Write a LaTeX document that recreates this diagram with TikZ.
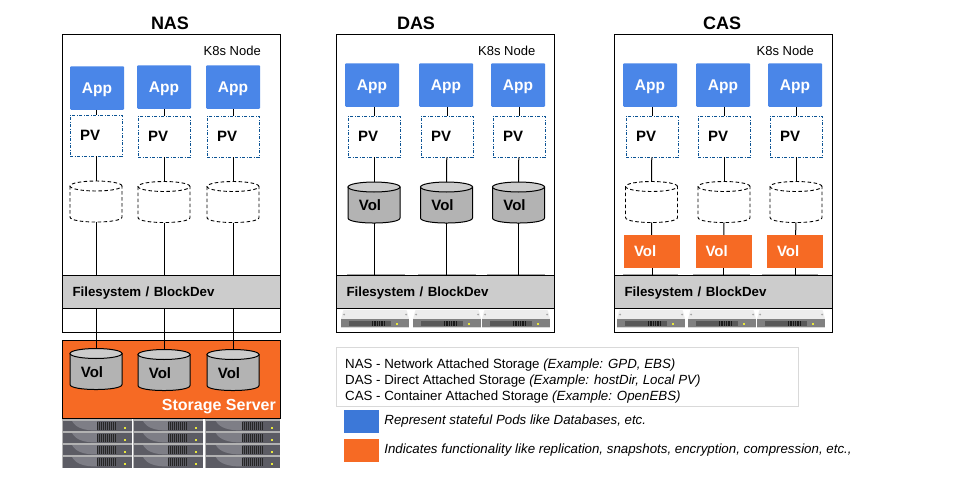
\documentclass[tikz,border=0pt]{standalone}
\usepackage{fontspec}
\setmainfont{Liberation Sans}
\usetikzlibrary{positioning}

\definecolor{appblue}{HTML}{4A86E8}
\definecolor{legendblue}{HTML}{3C78D8}
\definecolor{volorange}{HTML}{F66A24}
\definecolor{fsgrey}{HTML}{CCCCCC}
\definecolor{volgrey}{HTML}{B3B3B3}
\definecolor{pvblue}{HTML}{0B5394}
\definecolor{legendgrey}{HTML}{D9D9D9}
\definecolor{rackdark}{HTML}{5C5C64}
\definecolor{racklight}{HTML}{7E7E86}
\definecolor{ledyellow}{HTML}{E8E83C}

\tikzset{
  framebox/.style={draw=black, line width=1pt, minimum width=218pt, minimum height=297.5pt, inner sep=0pt},
  titletext/.style={font=\fontsize{18}{20}\selectfont\bfseries, inner sep=0pt},
  nodetext/.style={font=\fontsize{13}{15}\selectfont, inner sep=0pt},
  appbox/.style={fill=appblue, rounded corners=1pt, text=white, minimum width=54pt, minimum height=43.5pt, inner sep=0pt, text depth=0pt, font=\fontsize{15.5}{18}\selectfont\bfseries},
  pvbox/.style={draw=pvblue, line width=.8pt, dash pattern=on 3pt off 1.5pt on 1pt off 1.5pt, fill=white, minimum height=41pt, text width=32pt, inner xsep=10pt, inner ysep=0pt, align=left, font=\fontsize{15}{18}\selectfont\bfseries},
  voltext/.style={font=\fontsize{15}{18}\selectfont\bfseries, inner sep=0pt},
  orangevol/.style={fill=volorange, text=white, minimum height=33pt, text width=36pt, inner xsep=10pt, inner ysep=0pt, align=left, font=\fontsize{15}{18}\selectfont\bfseries},
  fsbox/.style={draw=black, line width=1pt, fill=fsgrey, minimum width=218pt, minimum height=33pt, text width=198pt, inner xsep=10pt, inner ysep=0pt, text depth=0pt, align=left, font=\fontsize{13.3}{16}\selectfont\bfseries},
  legendtext/.style={font=\fontsize{13.3}{16}\selectfont, inner sep=0pt, align=left},
  link/.style={draw=black, line width=1pt},
  peekline/.style={draw=gray!70, line width=1pt},
  emptycyl/.pic={
    \draw[black, line width=.9pt, dash pattern=on 3.5pt off 2.5pt, fill=white] (-26,-15.5) -- (-26,15.5) .. controls (-26,22.2) and (26,22.2) .. (26,15.5) -- (26,-15.5);
    \draw[black, line width=.9pt, dash pattern=on 3.5pt off 2.5pt, fill=white] (0,-15.5) ellipse [x radius=26pt, y radius=5pt];
    \coordinate (-top) at (0,-20.5);
    \coordinate (-bot) at (0,20.5);
  },
  greycyl/.pic={
    \draw[black, line width=1pt, fill=volgrey] (-26,-15.5) -- (-26,15.5) .. controls (-26,22.2) and (26,22.2) .. (26,15.5) -- (26,-15.5) -- cycle;
    \draw[black, line width=1pt, fill=fsgrey] (0,-15.5) ellipse [x radius=26pt, y radius=5pt];
    \node[voltext] (-text) at (-4,3) {Vol};
    \coordinate (-top) at (0,-20.5);
    \coordinate (-bot) at (0,20.5);
  },
  rackunit/.pic={
    \fill[rackdark] (0,0) rectangle (70,11.5);
    \draw[gray!60, line width=1.2pt] (0,0) -- (70,0);
    \draw[gray!60, line width=.8pt] (0,0) -- (0,11.5);
    \fill[racklight] (10,1) -- (35,1) -- (35,10.5) .. controls (22,10.5) and (14,8) .. (10,1);
    \draw[black!85, line width=8pt, dash pattern=on 1pt off 1pt] (35,6) -- (55,6);
    \fill[ledyellow] (62,6.5) rectangle (64,8.5);
  },
  diskunit/.pic={
    \fill[gray!15] (0,9) -- (2,1) .. controls (2,0) and (3,0) .. (4,0) -- (64,0) .. controls (65,0) and (66,0) .. (66,1) -- (68,9) -- cycle;
    \fill[gray!70] (3,4.5) circle (1pt);
    \fill[gray!70] (65,4.5) circle (1pt);
    \fill[gray] (0,9) rectangle (68,17);
    \fill[black!65] (8,11) rectangle (50,16);
    \draw[black!90, line width=5pt, dash pattern=on 1pt off .7pt] (31,13.5) -- (44,13.5);
    \fill[ledyellow] (55,13) rectangle (57,15);
    \fill[gray!30] (0,17) rectangle (68,18);
  },
}

\begin{document}
\begin{tikzpicture}[x=1pt, y=-1pt]
\useasboundingbox (0,0) rectangle (960,495);

% NAS
\node[titletext] (nastitle) at (170,23) {NAS};
\node[framebox] (nasframe) at (171.5,183.25) {};
\node[nodetext, anchor=east] (nask8s) at (261,51) {K8s Node};
\node[appbox] (nasappa) at (97,88) {App};
\node[appbox] (nasappb) at (164,87) {App};
\node[appbox] (nasappc) at (233,87) {App};
\node[pvbox] (naspva) at (96,135.5) {PV};
\node[pvbox] (naspvb) at (164,136.5) {PV};
\node[pvbox] (naspvc) at (233,136.5) {PV};
\pic (nascyla) at (96,201.5) {emptycyl};
\pic (nascylb) at (164,202) {emptycyl};
\pic (nascylc) at (233,202) {emptycyl};
\node[fsbox] (nasfs) at (171.5,291.5) {Filesystem / BlockDev};

% storage server under the NAS node
\node[fill=volorange, draw=black, line width=1pt, minimum width=217.5pt, minimum height=78pt] (nasserver) at (171.25,379.5) {};
\node[font=\fontsize{16}{18}\selectfont\bfseries, text=white, inner sep=0pt, anchor=east] (nasservertext) at (276,407) {Storage Server};
\pic (nasvola) at (96,369) {greycyl};
\pic (nasvolb) at (164,370) {greycyl};
\pic (nasvolc) at (233,370) {greycyl};
\pic at (62,420) {rackunit};
\pic at (133,420) {rackunit};
\pic[xscale=1.07] at (205,420) {rackunit};
\pic at (62,432) {rackunit};
\pic at (133,432) {rackunit};
\pic[xscale=1.07] at (205,432) {rackunit};
\pic at (62,444) {rackunit};
\pic at (133,444) {rackunit};
\pic[xscale=1.07] at (205,444) {rackunit};
\pic at (62,456) {rackunit};
\pic at (133,456) {rackunit};
\pic[xscale=1.07] at (205,456) {rackunit};

\draw[link] (naspva |- nasappa.south) -- (naspva);
\draw[link] (naspvb |- nasappb.south) -- (naspvb);
\draw[link] (naspvc |- nasappc.south) -- (naspvc);
\draw[link] (naspva) -- (nascyla-top);
\draw[link] (naspvb) -- (nascylb-top);
\draw[link] (naspvc) -- (nascylc-top);
\draw[link] (nascyla-bot) -- (nascyla-bot |- nasfs.north);
\draw[link] (nascylb-bot) -- (nascylb-bot |- nasfs.north);
\draw[link] (nascylc-bot) -- (nascylc-bot |- nasfs.north);
\draw[link] (nasvola-top |- nasfs.south) -- (nasvola-top);
\draw[link] (nasvolb-top |- nasfs.south) -- (nasvolb-top);
\draw[link] (nasvolc-top |- nasfs.south) -- (nasvolc-top);

% DAS
\node[titletext] (dastitle) at (416,23) {DAS};
\node[framebox] (dasframe) at (445.5,183.25) {};
\node[nodetext, anchor=east] (dask8s) at (535.5,51) {K8s Node};
\pic at (341,310) {diskunit};
\pic at (413,310) {diskunit};
\pic at (482,310) {diskunit};
\draw[peekline] (347,274) -- (405,274);
\draw[peekline] (418,274) -- (476,274);
\draw[peekline] (487,274) -- (545,274);
\node[appbox] (dasappa) at (372,85) {App};
\node[appbox] (dasappb) at (446,85) {App};
\node[appbox] (dasappc) at (518,85) {App};
\node[pvbox] (daspva) at (374,136.5) {PV};
\node[pvbox] (daspvb) at (447,136.5) {PV};
\node[pvbox] (daspvc) at (519,136.5) {PV};
\pic (dasvola) at (374,202.5) {greycyl};
\pic (dasvolb) at (446.5,202.5) {greycyl};
\pic (dasvolc) at (518.5,202.5) {greycyl};
\node[fsbox] (dasfs) at (445.5,291.5) {Filesystem / BlockDev};

\draw[link] (daspva |- dasappa.south) -- (daspva);
\draw[link] (daspvb |- dasappb.south) -- (daspvb);
\draw[link] (daspvc |- dasappc.south) -- (daspvc);
\draw[link] (daspva) -- (dasvola-top);
\draw[link] (daspvb) -- (dasvolb-top);
\draw[link] (daspvc) -- (dasvolc-top);
\draw[link] (dasvola-bot) -- (dasvola-bot |- dasfs.north);
\draw[link] (dasvolb-bot) -- (dasvolb-bot |- dasfs.north);
\draw[link] (dasvolc-bot) -- (dasvolc-bot |- dasfs.north);

% CAS
\node[titletext] (castitle) at (722,23) {CAS};
\node[framebox] (casframe) at (723.5,183.25) {};
\node[nodetext, anchor=east] (cask8s) at (814,51) {K8s Node};
\pic at (617,310) {diskunit};
\pic at (688,310) {diskunit};
\pic at (757,310) {diskunit};
\draw[peekline] (623,274) -- (678,274);
\draw[peekline] (693,274) -- (750,274);
\draw[peekline] (762,274) -- (818,274);
\node[appbox] (casappa) at (650,85) {App};
\node[appbox] (casappb) at (723,85) {App};
\node[appbox] (casappc) at (795,85) {App};
\node[pvbox] (caspva) at (652,136.5) {PV};
\node[pvbox] (caspvb) at (724,136.5) {PV};
\node[pvbox] (caspvc) at (796,136.5) {PV};
\pic (cascyla) at (651.5,202) {emptycyl};
\pic (cascylb) at (724,202) {emptycyl};
\pic (cascylc) at (796,202) {emptycyl};
\node[orangevol] (casvola) at (652,251.5) {Vol};
\node[orangevol] (casvolb) at (723.5,251.5) {Vol};
\node[orangevol] (casvolc) at (795,251.5) {Vol};
\node[fsbox] (casfs) at (723.5,292) {Filesystem / BlockDev};

\draw[link] (caspva |- casappa.south) -- (caspva);
\draw[link] (caspvb |- casappb.south) -- (caspvb);
\draw[link] (caspvc |- casappc.south) -- (caspvc);
\draw[link] (caspva) -- (cascyla-top);
\draw[link] (caspvb) -- (cascylb-top);
\draw[link] (caspvc) -- (cascylc-top);
\draw[link] (cascyla-bot) -- (casvola);
\draw[link] (cascylb-bot) -- (casvolb);
\draw[link] (cascylc-bot) -- (casvolc);
\draw[link] (casvola) -- (casvola |- casfs.north);
\draw[link] (casvolb) -- (casvolb |- casfs.north);
\draw[link] (casvolc) -- (casvolc |- casfs.north);

% legend
\node[draw=legendgrey, line width=1pt, minimum width=462pt, minimum height=59pt] (legendbox) at (567,377) {};
\node[legendtext, anchor=west] (legendlines) at (345,381) {NAS - Network Attached Storage \textit{(Example: GPD, EBS)}\\DAS - Direct Attached Storage \textit{(Example: hostDir, Local PV)}\\CAS - Container Attached Storage \textit{(Example: OpenEBS)}};
\node[fill=legendblue, minimum width=35pt, minimum height=23pt, inner sep=0pt] (legendapp) at (361.5,421.5) {};
\node[legendtext, anchor=west, right=5pt of legendapp, font=\fontsize{13.3}{16}\selectfont\itshape] (legendapptext) {Represent stateful Pods like Databases, etc.};
\node[fill=volorange, minimum width=35pt, minimum height=23pt, inner sep=0pt] (legendvol) at (361.5,450.5) {};
\node[legendtext, anchor=west, right=5pt of legendvol, font=\fontsize{13.3}{16}\selectfont\itshape] (legendvoltext) {Indicates functionality like replication, snapshots, encryption, compression, etc.,};
\end{tikzpicture}
\end{document}
